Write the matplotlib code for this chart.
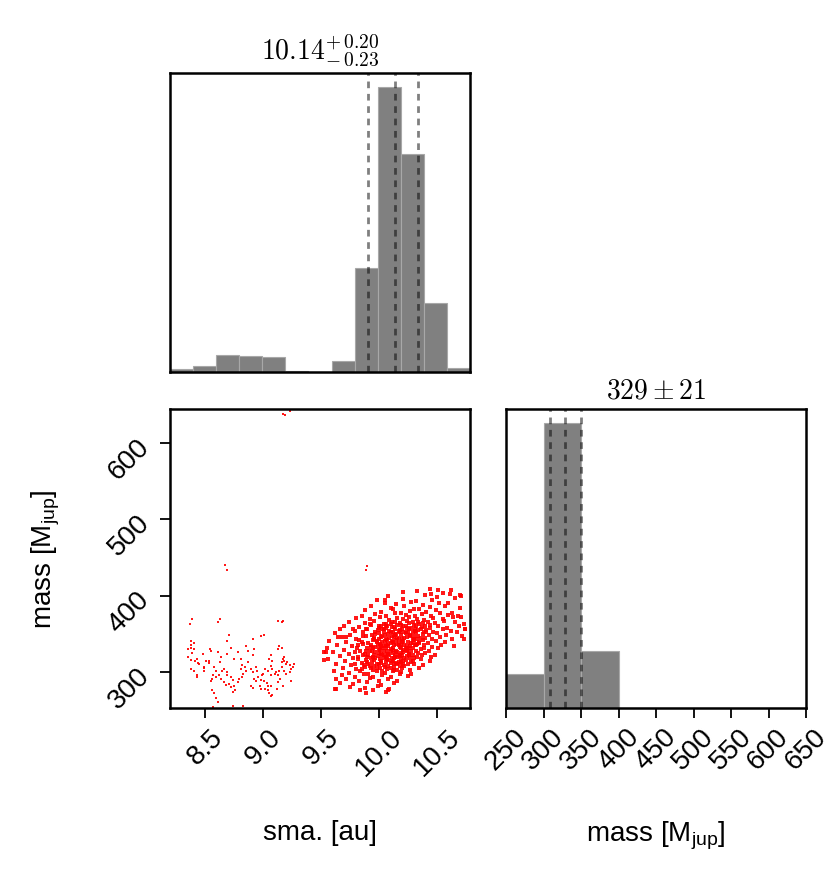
import numpy as np
import matplotlib
matplotlib.use("Agg")
import matplotlib.pyplot as plt

plt.rcParams['font.family'] = ['Liberation Sans', 'DejaVu Sans']
plt.rcParams['mathtext.fontset'] = 'custom'
plt.rcParams['mathtext.rm'] = 'Liberation Sans'
plt.rcParams['font.size'] = 20

# axis ranges
sma_lim = (8.197, 10.786)
mass_lim_scatter = (253, 644.5)
mass_lim_hist = (250, 650)

# 1D marginals
sma_counts = [8, 18, 52, 49, 46, 3, 0, 34, 311, 854, 652, 206, 13]
mass_edges = [250, 300, 350, 400, 450, 500, 550, 600, 650]
mass_counts = [102, 856, 172, 0, 0, 0, 0, 0]

sma_q = [9.91, 10.14, 10.34]
mass_q = [308, 329, 350]

sma_ticks = [8.5, 9.0, 9.5, 10.0, 10.5]
mass_ticks_y = [300, 400, 500, 600]
mass_ticks_x = [250, 300, 350, 400, 450, 500, 550, 600, 650]

# posterior samples (sma, mass)
main_pts = [
    (10.33, 406), (10.55, 404), (10.62, 407), (10.44, 409), (10.70, 401),
    (10.08, 399), (10.40, 401), (10.50, 398), (10.71, 400),
    (9.98, 394), (10.21, 396), (10.32, 393), (10.46, 395), (10.66, 397),
    (10.05, 391), (10.15, 389), (10.28, 392), (10.38, 388), (10.52, 390), (10.60, 391),
    (9.93, 386), (10.10, 384), (10.22, 387), (10.30, 383), (10.44, 385), (10.57, 386), (10.70, 384),
    (9.88, 381), (10.02, 379), (10.12, 382), (10.19, 378), (10.27, 380), (10.35, 382), (10.41, 379),
    (10.49, 381), (10.63, 378),
    (9.85, 374), (9.97, 376), (10.06, 373), (10.14, 377), (10.23, 375), (10.31, 373), (10.37, 376),
    (10.45, 374), (10.53, 377), (10.60, 375), (10.68, 373),
    (9.80, 371), (9.92, 369), (10.01, 372), (10.09, 368), (10.16, 371), (10.21, 369), (10.26, 372),
    (10.33, 370), (10.39, 368), (10.47, 371), (10.55, 369), (10.64, 372),
    (9.74, 366), (9.88, 364), (9.96, 367), (10.04, 363), (10.11, 366), (10.18, 364), (10.24, 367),
    (10.29, 365), (10.35, 363), (10.42, 366), (10.48, 364), (10.56, 367), (10.66, 365), (10.73, 363),
    (9.70, 361), (9.83, 359), (9.93, 362), (10.00, 358), (10.07, 361), (10.13, 359), (10.19, 362),
    (10.23, 360), (10.28, 358), (10.32, 361), (10.37, 359), (10.44, 362), (10.51, 360), (10.59, 358),
    (10.69, 361),
    (9.66, 356), (9.79, 354), (9.89, 357), (9.97, 353), (10.03, 356), (10.09, 354), (10.14, 357),
    (10.18, 355), (10.22, 353), (10.26, 356), (10.31, 354), (10.36, 357), (10.41, 355), (10.47, 353),
    (10.55, 356), (10.62, 354), (10.74, 357),
    (9.62, 351), (9.75, 349), (9.86, 352), (9.94, 348), (10.00, 351), (10.05, 349), (10.10, 352),
    (10.15, 350), (10.19, 348), (10.23, 351), (10.27, 349), (10.32, 352), (10.38, 350), (10.43, 348),
    (10.50, 351), (10.58, 349), (10.67, 352),
    (9.68, 346), (9.80, 344), (9.89, 347), (9.96, 343), (10.02, 346), (10.06, 344), (10.11, 347),
    (10.16, 345), (10.20, 343), (10.24, 346), (10.29, 344), (10.34, 347), (10.40, 345), (10.46, 343),
    (10.53, 346), (10.63, 344), (10.72, 347),
    (9.57, 341), (9.72, 339), (9.83, 342), (9.91, 338), (9.98, 341), (10.03, 339), (10.07, 342),
    (10.12, 340), (10.17, 338), (10.21, 341), (10.25, 339), (10.30, 342), (10.35, 340), (10.42, 338),
    (10.49, 341), (10.57, 339),
    (9.64, 336), (9.77, 334), (9.86, 337), (9.93, 333), (9.99, 336), (10.04, 334), (10.08, 337),
    (10.13, 335), (10.18, 333), (10.22, 336), (10.27, 334), (10.33, 337), (10.39, 335), (10.46, 333),
    (10.54, 336), (10.65, 334),
    (9.55, 331), (9.70, 329), (9.81, 332), (9.89, 328), (9.95, 331), (10.01, 329), (10.06, 332),
    (10.10, 330), (10.15, 328), (10.19, 331), (10.24, 329), (10.29, 332), (10.36, 330), (10.43, 328),
    (10.51, 331),
    (9.60, 326), (9.74, 324), (9.84, 327), (9.91, 323), (9.97, 326), (10.02, 324), (10.07, 327),
    (10.12, 325), (10.17, 323), (10.21, 326), (10.26, 324), (10.32, 327), (10.40, 325), (10.48, 323),
    (9.66, 321), (9.78, 319), (9.86, 322), (9.93, 318), (9.99, 321), (10.04, 319), (10.09, 322),
    (10.14, 320), (10.19, 318), (10.24, 321), (10.30, 319), (10.37, 322), (10.45, 320),
    (9.53, 316), (9.71, 314), (9.82, 317), (9.90, 313), (9.96, 316), (10.02, 314), (10.07, 317),
    (10.12, 315), (10.17, 313), (10.23, 316), (10.29, 314), (10.36, 317), (10.44, 315),
    (9.63, 311), (9.76, 309), (9.85, 312), (9.92, 308), (9.98, 311), (10.04, 309), (10.10, 312),
    (10.16, 310), (10.22, 308), (10.30, 311), (10.38, 309),
    (9.69, 306), (9.80, 304), (9.88, 307), (9.95, 303), (10.01, 306), (10.07, 304), (10.13, 307),
    (10.20, 305), (10.27, 303), (10.35, 306),
    (9.61, 301), (9.74, 299), (9.84, 302), (9.91, 298), (9.98, 301), (10.05, 299), (10.12, 302),
    (10.19, 300), (10.28, 298),
    (9.68, 296), (9.79, 294), (9.87, 297), (9.95, 293), (10.03, 296), (10.10, 294), (10.18, 297),
    (10.25, 295),
    (9.72, 291), (9.83, 289), (9.92, 292), (10.00, 288), (10.08, 291), (10.16, 289),
    (9.66, 286), (9.78, 284), (9.90, 287), (10.02, 283), (10.13, 286),
    (9.75, 281), (9.88, 279), (9.99, 282), (10.09, 278),
    (9.84, 276), (10.06, 274),
    # denser core
    (9.92, 363), (10.02, 361), (10.10, 363), (10.16, 362), (10.26, 364), (10.34, 366), (10.40, 361),
    (9.90, 357), (9.99, 355), (10.06, 358), (10.12, 352), (10.20, 357), (10.29, 352), (10.34, 355),
    (10.44, 358),
    (9.86, 347), (9.97, 350), (10.03, 347), (10.08, 350), (10.13, 346), (10.18, 352), (10.22, 345),
    (10.27, 347), (10.36, 345), (10.41, 352),
    (9.85, 340), (9.95, 342), (10.01, 337), (10.05, 341), (10.10, 338), (10.15, 342), (10.19, 336),
    (10.28, 338), (10.32, 336), (10.38, 342),
    (9.82, 335), (9.90, 331), (9.97, 333), (10.03, 331), (10.08, 334), (10.12, 332), (10.17, 336),
    (10.21, 329), (10.26, 332), (10.31, 335), (10.39, 331),
    (9.79, 326), (9.88, 324), (9.94, 328), (10.00, 325), (10.05, 323), (10.10, 327), (10.14, 323),
    (10.19, 325), (10.24, 327), (10.29, 322),
    (9.82, 320), (9.89, 316), (9.95, 320), (10.01, 317), (10.06, 320), (10.11, 318), (10.16, 320),
    (10.21, 315), (10.27, 318),
    (9.79, 311), (9.87, 309), (9.94, 313), (10.00, 310), (10.06, 313), (10.13, 310), (10.19, 313),
    (10.25, 310),
    (9.85, 304), (9.93, 306), (10.03, 302), (10.10, 305), (10.16, 303),
    (9.96, 345), (10.00, 343), (10.04, 352), (10.09, 345), (10.14, 348), (10.17, 343), (10.25, 352),
    (10.30, 347), (10.33, 343),
    (9.93, 336), (9.98, 339), (10.02, 334), (10.06, 336), (10.11, 341), (10.15, 337), (10.20, 339),
    (10.24, 334), (10.29, 338), (10.35, 338),
    (9.92, 327), (9.96, 322), (10.00, 330), (10.04, 327), (10.08, 324), (10.12, 329), (10.16, 326),
    (10.20, 322), (10.23, 331), (10.28, 327), (10.34, 325),
    (9.90, 320), (9.97, 318), (10.03, 322), (10.08, 316), (10.13, 318), (10.18, 321), (10.22, 318),
    (10.26, 322), (10.33, 320),
    (9.91, 311), (9.96, 308), (10.02, 312), (10.08, 308), (10.11, 314), (10.15, 312), (10.21, 311),
    (10.28, 313),
    (9.98, 305), (10.05, 307), (10.13, 303), (10.18, 308),
    (10.00, 360), (10.06, 363), (10.14, 365), (10.21, 360), (10.30, 362), (10.38, 364),
    (10.04, 356), (10.11, 359), (10.17, 354), (10.24, 358), (10.31, 357), (10.39, 353),
    # outskirts
    (9.53, 326), (9.56, 317), (9.65, 346), (9.63, 291), (9.63, 278), (9.72, 346), (9.78, 357),
    (9.545, 326), (9.625, 278), (9.89, 273), (9.95, 277), (10.08, 277),
    (10.21, 405), (10.51, 407), (10.61, 402), (10.45, 402), (10.05, 394),
    (10.74, 357), (10.71, 372), (10.73, 344),
]

low_pts = [
    (8.39, 369), (8.37, 363), (8.63, 370), (8.61, 365), (8.71, 349), (8.69, 341),
    (9.13, 367), (9.16, 365), (9.17, 367), (8.91, 343), (8.98, 347), (9.01, 349),
    (8.38, 341), (8.40, 338), (8.38, 335), (8.35, 330), (8.38, 331), (8.40, 330), (8.39, 325),
    (8.35, 320), (8.38, 316), (8.41, 315), (8.43, 317), (8.44, 312), (8.45, 310),
    (8.38, 304), (8.40, 302), (8.43, 296), (8.43, 293), (8.49, 305), (8.49, 302),
    (8.54, 330), (8.55, 327), (8.61, 326), (8.53, 315), (8.53, 312), (8.64, 320), (8.63, 313),
    (8.58, 307), (8.59, 301), (8.57, 296), (8.59, 293), (8.55, 289), (8.56, 291),
    (8.62, 296), (8.64, 291), (8.65, 302), (8.66, 304), (8.69, 300), (8.69, 296),
    (8.72, 293), (8.74, 290), (8.66, 287), (8.68, 283), (8.71, 285), (8.72, 280),
    (8.75, 282), (8.76, 277), (8.74, 274), (8.56, 276), (8.58, 272), (8.59, 266), (8.61, 261),
    (8.57, 254), (8.74, 256), (8.83, 256), (8.78, 287), (8.79, 291), (8.82, 293),
    (8.83, 298), (8.85, 301), (8.81, 304), (8.82, 309), (8.84, 307), (8.87, 313),
    (8.90, 304), (8.91, 300), (8.94, 307), (8.95, 302), (8.92, 291), (8.94, 289),
    (8.96, 293), (8.98, 290), (8.99, 296), (8.90, 282), (8.91, 279), (8.97, 282), (8.98, 278),
    (9.01, 289), (9.03, 286), (9.04, 282), (9.02, 278), (9.04, 276), (9.05, 272),
    (9.07, 269), (9.08, 270), (9.00, 298), (9.02, 304), (9.04, 302), (9.07, 296), (9.10, 298),
    (9.08, 304), (9.07, 308), (9.05, 317), (9.07, 322), (9.08, 314),
    (9.13, 330), (9.14, 334), (9.16, 331), (9.11, 300), (9.13, 296), (9.14, 302),
    (9.16, 313), (9.17, 317), (9.18, 315), (9.20, 311), (9.16, 307),
    (9.21, 313), (9.23, 309), (9.24, 304), (9.26, 307), (9.27, 310),
    (9.23, 300), (9.20, 298), (9.18, 302), (9.24, 289), (9.17, 282), (9.13, 287), (9.12, 278),
    (9.18, 320), (9.15, 291), (9.07, 282), (8.78, 326), (8.81, 317), (8.75, 317),
    (8.85, 334), (8.87, 328), (8.91, 322), (8.92, 330), (8.72, 331), (8.69, 324),
    (8.49, 307), (8.51, 315), (8.48, 324),
]

stray_pts = [
    (9.175, 638), (9.19, 637), (9.23, 642),
    (8.67, 440), (8.685, 434), (9.90, 439), (9.89, 434),
]

fig = plt.figure(figsize=(8.38, 8.78), dpi=100)
W, H = 838.0, 878.0
ax_top = fig.add_axes([170 / W, 1 - 373 / H, 300 / W, 299 / H])
ax_sc = fig.add_axes([170 / W, 1 - 709 / H, 300 / W, 299 / H])
ax_m = fig.add_axes([506 / W, 1 - 709 / H, 300 / W, 299 / H])

hist_kw = dict(color='#808080', edgecolor='#a8a8a8', linewidth=0.8)
q_kw = dict(color='k', alpha=0.5, lw=2.0, ls=(0, (2.4, 2.05)))

# sma marginal
sma_edges = np.linspace(sma_lim[0], sma_lim[1], len(sma_counts) + 1)
sma_centers = 0.5 * (sma_edges[1:] + sma_edges[:-1])
ax_top.hist(sma_centers, bins=sma_edges, weights=sma_counts, **hist_kw)
for q in sma_q:
    ax_top.axvline(q, **q_kw)
ax_top.set_xlim(sma_lim)
ax_top.set_ylim(0, 1.048 * max(sma_counts))
ax_top.set_xticks([])
ax_top.set_yticks([])
ax_top.set_title(r"$10.14^{+\,0.20}_{-\,0.23}$", math_fontfamily='cm', fontsize=20, pad=10)

# mass marginal
mass_centers = 0.5 * (np.array(mass_edges[1:]) + np.array(mass_edges[:-1]))
ax_m.hist(mass_centers, bins=mass_edges, weights=mass_counts, **hist_kw)
for q in mass_q:
    ax_m.axvline(q, **q_kw)
ax_m.set_xlim(mass_lim_hist)
ax_m.set_ylim(0, 1.049 * max(mass_counts))
ax_m.set_yticks([])
ax_m.set_xticks(mass_ticks_x)
ax_m.set_xticklabels([str(t) for t in mass_ticks_x], rotation=45)
ax_m.set_title(r"$329\pm21$", math_fontfamily='cm', fontsize=20, pad=8)
ax_m.set_xlabel(r"mass [M$_{\mathrm{jup}}$]")
ax_m.xaxis.set_label_coords(0.5, -0.37)

# 2D samples
for pts, ms in ((main_pts, 2.7), (low_pts, 2.1), (stray_pts, 2.1)):
    xs = [p[0] for p in pts]
    ys = [p[1] for p in pts]
    ax_sc.plot(xs, ys, 's', ms=ms, mew=0, color='red', alpha=0.9)
ax_sc.set_xlim(sma_lim)
ax_sc.set_ylim(mass_lim_scatter)
ax_sc.set_xticks(sma_ticks)
ax_sc.set_xticklabels([f"{t:.1f}" for t in sma_ticks], rotation=45)
ax_sc.set_yticks(mass_ticks_y)
ax_sc.set_yticklabels([str(t) for t in mass_ticks_y], rotation=45)
ax_sc.set_xlabel("sma. [au]")
ax_sc.xaxis.set_label_coords(0.5, -0.37)
ax_sc.set_ylabel(r"mass [M$_{\mathrm{jup}}$]")
ax_sc.yaxis.set_label_coords(-0.36, 0.5)

for ax in (ax_top, ax_sc, ax_m):
    for s in ax.spines.values():
        s.set_linewidth(1.8)
    ax.tick_params(direction='out', length=7.5, width=1.3, labelsize=20)

fig.savefig("out.png", dpi=100)
